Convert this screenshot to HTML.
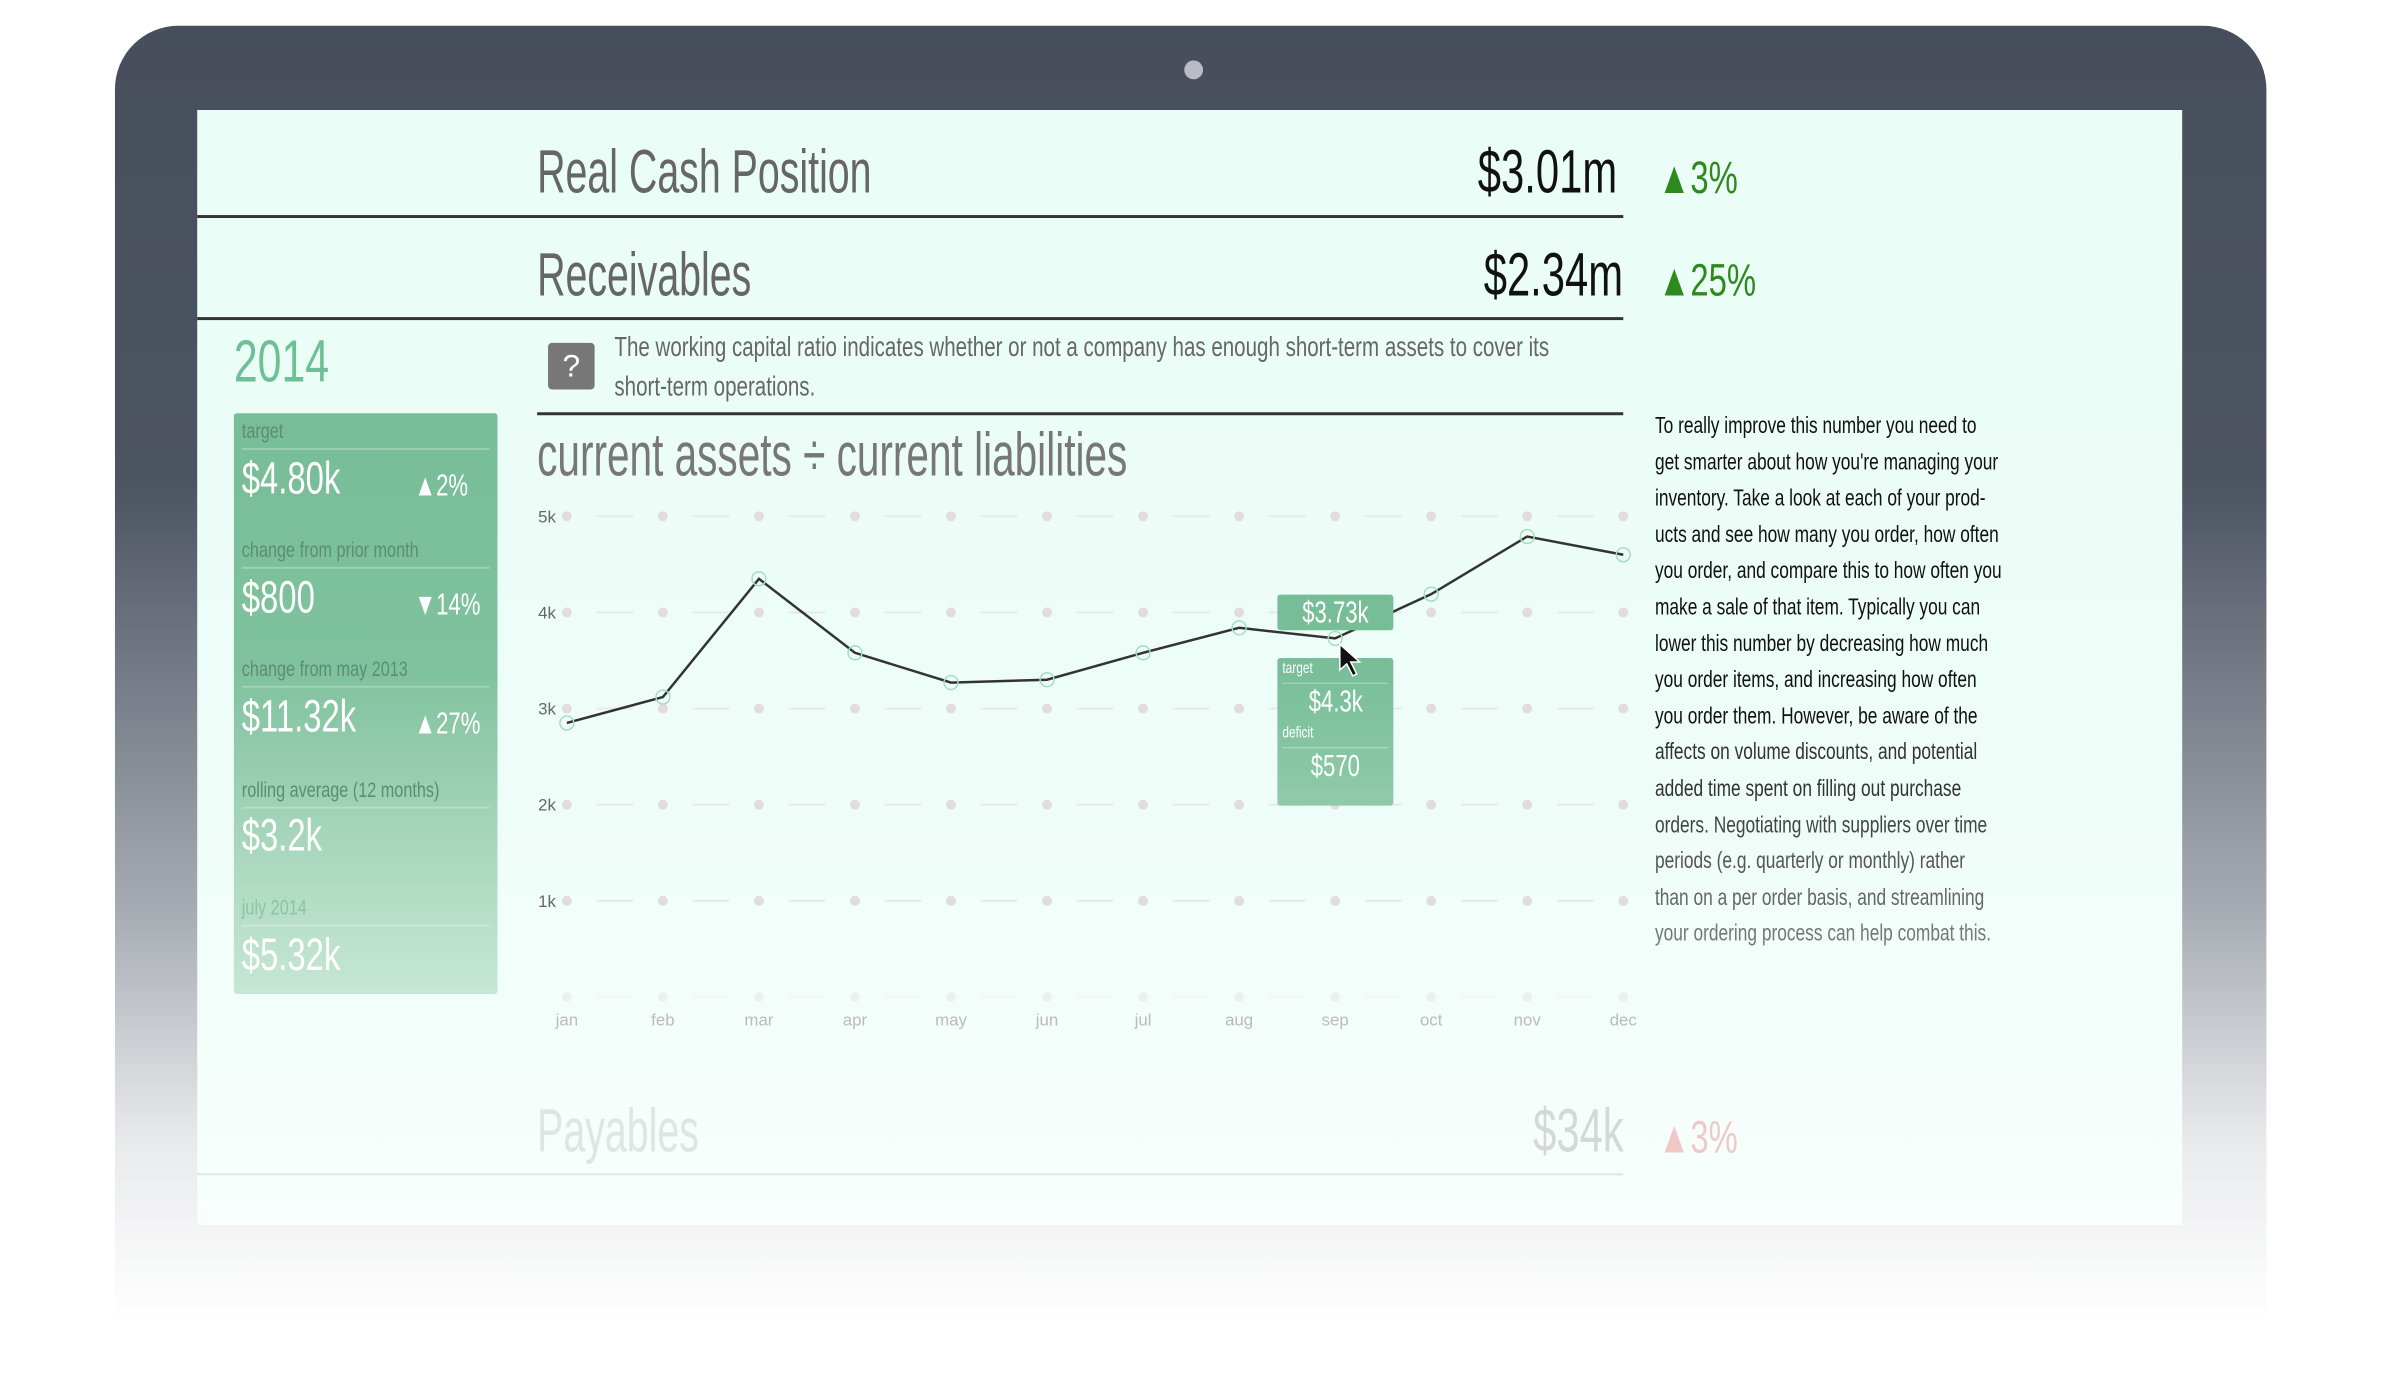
<!DOCTYPE html>
<html><head><meta charset="utf-8"><style>
*{margin:0;padding:0;box-sizing:border-box}
body{width:2400px;height:1400px;overflow:hidden;background:#fff;position:relative;font-family:"Liberation Sans Narrow","Liberation Sans",sans-serif}
#wrap{position:absolute;left:0;top:0;width:2400px;height:1400px;transform:scale(0.991);transform-origin:0 0}
.abs{position:absolute;white-space:nowrap}
#frame{left:116px;top:26px;width:2171px;height:1310px;border-radius:64px 64px 0 0;background:linear-gradient(#474e5c 0%,#4c5361 35%,#a6abb3 68%,#e9eaec 86%,#fff 100%)}
#screen{left:199px;top:111px;width:2003px;height:1125px;background:linear-gradient(#e9fdf6 0%,#eefdf8 60%,#f8fffc 100%)}
.big{font-size:62px;color:#666;transform:scaleX(.64);transform-origin:left center}
.val{font-size:62px;color:#111;transform:scaleX(.68);transform-origin:right center;text-align:right}
.pct{font-size:46px;color:#2e8a1c;transform:scaleX(.72);transform-origin:left center}
.rule{background:#333;height:3px}
.pl{font-size:21px;color:#5a8e72;transform:scaleX(.78);transform-origin:left center}
.pv{font-size:46px;color:#fff;transform:scaleX(.72);transform-origin:left center}
.pp{font-size:31px;color:#fff;transform:scaleX(.72);transform-origin:left center}
.ps{height:2px;background:rgba(255,255,255,.25);left:244px;width:250px}
.rt{font-size:23px;color:#111;transform:scaleX(.76);transform-origin:left center}
</style></head><body>
<div id="wrap">
<div id="frame" class="abs"></div>
<div class="abs" style="left:1195px;top:61px;width:19px;height:19px;border-radius:50%;background:#b9bcc4"></div>
<div id="screen" class="abs"></div>

<div class="abs big" style="left:542px;top:138px">Real Cash Position</div>
<div class="abs val" style="right:768px;top:138px">$3.01m</div>
<div class="abs pct" style="left:1673px;top:152px">▲3%</div>
<div class="abs rule" style="left:199px;top:217px;width:1439px"></div>

<div class="abs big" style="left:542px;top:242px">Receivables</div>
<div class="abs val" style="right:762px;top:242px">$2.34m</div>
<div class="abs pct" style="left:1673px;top:255px">▲25%</div>
<div class="abs rule" style="left:199px;top:320px;width:1439px"></div>

<div class="abs" style="left:236px;top:330px;font-size:60px;color:#6dbf96;transform:scaleX(.72);transform-origin:left">2014</div>
<div class="abs" style="left:553px;top:346px;width:47px;height:47px;background:#777;border-radius:4px;color:#fff;font-size:32px;text-align:center;line-height:47px">?</div>
<div class="abs" style="left:620px;top:330px;font-size:28px;color:#666;line-height:40px;transform:scaleX(.74);transform-origin:left">The working capital ratio indicates whether or not a company has enough short-term assets to cover its<br>short-term operations.</div>
<div class="abs rule" style="left:542px;top:416px;width:1096px"></div>
<div class="abs" style="left:542px;top:424px;font-size:62px;color:#777;transform:scaleX(.66);transform-origin:left">current assets ÷ current liabilities</div>

<div class="abs" style="left:236px;top:417px;width:266px;height:586px;border-radius:3px;background:linear-gradient(#77bd97 0%,#80c29e 45%,#a9d7bd 75%,#c6e7d5 100%)"></div>
<div class="abs pl" style="left:244px;top:424px">target</div>
<div class="abs ps" style="top:452px"></div>
<div class="abs pv" style="left:244px;top:455px">$4.80k</div>
<div class="abs pp" style="left:418px;top:472px">▲2%</div>
<div class="abs pl" style="left:244px;top:544px">change from prior month</div>
<div class="abs ps" style="top:572px"></div>
<div class="abs pv" style="left:244px;top:575px">$800</div>
<div class="abs pp" style="left:418px;top:592px">▼14%</div>
<div class="abs pl" style="left:244px;top:664px">change from may 2013</div>
<div class="abs ps" style="top:692px"></div>
<div class="abs pv" style="left:244px;top:695px">$11.32k</div>
<div class="abs pp" style="left:418px;top:712px">▲27%</div>
<div class="abs pl" style="left:244px;top:786px">rolling average (12 months)</div>
<div class="abs ps" style="top:814px"></div>
<div class="abs pv" style="left:244px;top:815px">$3.2k</div>
<div class="abs pl" style="left:244px;top:905px;color:#8cc3a6">july 2014</div>
<div class="abs ps" style="top:933px"></div>
<div class="abs pv" style="left:244px;top:936px">$5.32k</div>

<svg class="abs" id="chart" style="left:0;top:0" width="2400" height="1400"></svg>

<div class="abs" style="left:1289px;top:600px;width:117px;height:36px;background:#77bd97;border-radius:3px;color:#fff;font-size:31px;text-align:center;line-height:36px"><span style="display:inline-block;transform:scaleX(.72)">$3.73k</span></div>
<div class="abs" style="left:1289px;top:664px;width:117px;height:149px;background:linear-gradient(#77bd97,#8fcaa9);border-radius:3px;color:#fff">
 <div class="abs" style="left:5px;top:2px;font-size:16px;transform:scaleX(.75);transform-origin:left">target</div>
 <div class="abs" style="left:5px;top:25px;width:107px;height:1px;background:rgba(255,255,255,.4)"></div>
 <div class="abs" style="left:0;width:117px;top:26px;font-size:31px;text-align:center"><span style="display:inline-block;transform:scaleX(.72)">$4.3k</span></div>
 <div class="abs" style="left:5px;top:67px;font-size:16px;transform:scaleX(.75);transform-origin:left">deficit</div>
 <div class="abs" style="left:5px;top:90px;width:107px;height:1px;background:rgba(255,255,255,.4)"></div>
 <div class="abs" style="left:0;width:117px;top:91px;font-size:31px;text-align:center"><span style="display:inline-block;transform:scaleX(.72)">$570</span></div>
</div>
<svg class="abs" style="left:1350px;top:648px" width="30" height="40"><path d="M2 2 L2 28 L9 22 L15 34 L19 32 L13 20 L22 20 Z" fill="#111" stroke="#fff" stroke-width="1.5"/></svg>

<div class="abs" style="left:1670px;top:411px">
<div class="rt" style="line-height:36.6px">To really improve this number you need to</div>
<div class="rt" style="line-height:36.6px">get smarter about how you're managing your</div>
<div class="rt" style="line-height:36.6px">inventory. Take a look at each of your prod-</div>
<div class="rt" style="line-height:36.6px">ucts and see how many you order, how often</div>
<div class="rt" style="line-height:36.6px">you order, and compare this to how often you</div>
<div class="rt" style="line-height:36.6px">make a sale of that item. Typically you can</div>
<div class="rt" style="line-height:36.6px">lower this number by decreasing how much</div>
<div class="rt" style="line-height:36.6px">you order items, and increasing how often</div>
<div class="rt" style="line-height:36.6px">you order them. However, be aware of the</div>
<div class="rt" style="line-height:36.6px;color:#333">affects on volume discounts, and potential</div>
<div class="rt" style="line-height:36.6px;color:#333">added time spent on filling out purchase</div>
<div class="rt" style="line-height:36.6px;color:#444">orders. Negotiating with suppliers over time</div>
<div class="rt" style="line-height:36.6px;color:#555">periods (e.g. quarterly or monthly) rather</div>
<div class="rt" style="line-height:36.6px;color:#666">than on a per order basis, and streamlining</div>
<div class="rt" style="line-height:36.6px;color:#777">your ordering process can help combat this.</div>
</div>

<div class="abs big" style="left:542px;top:1106px;color:#dde6e2">Payables</div>
<div class="abs val" style="right:762px;top:1106px;color:#d4d8d6">$34k</div>
<div class="abs pct" style="left:1673px;top:1120px;color:#f0c8c8">▲3%</div>
<div class="abs" style="left:199px;top:1184px;width:1439px;height:2px;background:#dfe5e2"></div>
</div>

<script>
const months=["jan","feb","mar","apr","may","jun","jul","aug","sep","oct","nov","dec"];
const values=[2.85,3.12,4.35,3.58,3.27,3.3,3.58,3.84,3.73,4.19,4.79,4.6];
const yTicks=[0,1,2,3,4,5];
const yTickLabels=["","1k","2k","3k","4k","5k"];
const NS="http://www.w3.org/2000/svg";
const svg=document.getElementById('chart');
const x=i=>572+i*(1638-572)/11;
const y=v=>1006-v*97;
function mk(t,a){const e=document.createElementNS(NS,t);for(const k in a)e.setAttribute(k,a[k]);svg.appendChild(e);return e;}
yTicks.forEach((t,ti)=>{
  for(let i=0;i<months.length;i++){
    const d=mk('circle',{cx:x(i),cy:y(t),r:5,fill:t===0?'#eef0ef':'#e2dcdc'});
    
    
    if(i<months.length-1){const l=mk('line',{x1:x(i)+30,x2:x(i+1)-30,y1:y(t),y2:y(t),stroke:t===0?'#f2f4f3':'#ebe6e6','stroke-width':2});
      
      }
  }
  const tl=mk('text',{x:543,y:y(t)+6,'font-size':17,fill:'#666','font-family':'Liberation Sans Narrow, Liberation Sans, sans-serif'});
  tl.textContent=yTickLabels[ti];
  
  
});
months.forEach((m,i)=>{
  const t=mk('text',{x:x(i),y:1035,'font-size':17,fill:'#bbb','text-anchor':'middle','font-family':'Liberation Sans Narrow, Liberation Sans, sans-serif'});
  t.textContent=m;
  
  
});
const p=mk('polyline',{points:values.map((v,i)=>x(i)+','+y(v)).join(' '),fill:'none',stroke:'#333','stroke-width':2.5});


values.forEach((v,i)=>{
  const c=mk('circle',{cx:x(i),cy:y(v),r:7,fill:'none',stroke:'#a8dcc0','stroke-width':1.5});
  
  
});
</script>
</body></html>
